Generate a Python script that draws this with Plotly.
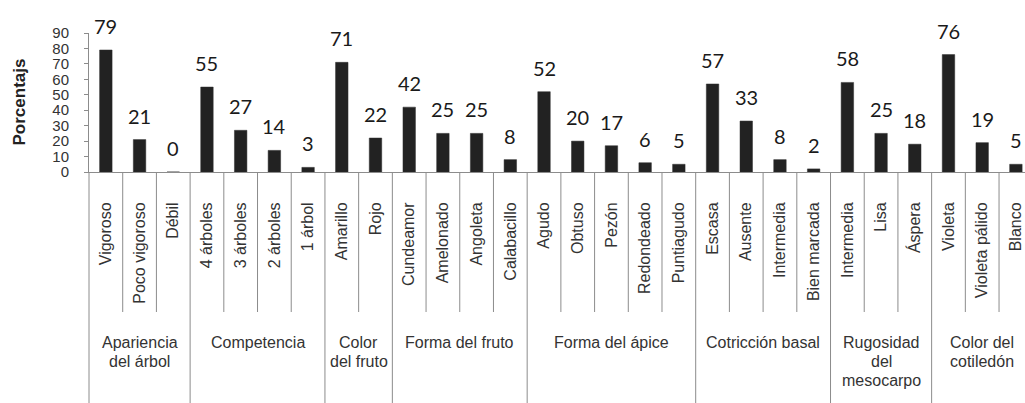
import plotly.graph_objects as go

categories = ["Vigoroso", "Poco vigoroso", "Débil",
              "4 árboles", "3 árboles", "2 árboles", "1 árbol",
              "Amarillo", "Rojo",
              "Cundeamor", "Amelonado", "Angoleta", "Calabacillo",
              "Agudo", "Obtuso", "Pezón", "Redondeado", "Puntiagudo",
              "Escasa", "Ausente", "Intermedia", "Bien marcada",
              "Intermedia", "Lisa", "Áspera",
              "Violeta", "Violeta pálido", "Blanco"]
values = [79, 21, 0,
          55, 27, 14, 3,
          71, 22,
          42, 25, 25, 8,
          52, 20, 17, 6, 5,
          57, 33, 8, 2,
          58, 25, 18,
          76, 19, 5]
group_names = [["Apariencia", "del árbol"], ["Competencia"], ["Color", "del fruto"],
               ["Forma del fruto"], ["Forma del ápice"], ["Cotricción basal"],
               ["Rugosidad", "del", "mesocarpo"], ["Color del", "cotiledón"]]
group_sizes = [3, 4, 2, 4, 5, 4, 3, 3]
y_ticks = [0, 10, 20, 30, 40, 50, 60, 70, 80, 90]

W, H = 1025, 403
ML, MR, MT, MB = 89, 0, 33, 231
PLOT_H = H - MT - MB
X_RANGE = [-0.5, 27.27]
LINE = "#8c8c8c"
FONT = "Liberation Sans, Arial, sans-serif"

idx = list(range(len(categories)))

fig = go.Figure()
fig.add_trace(go.Bar(x=idx, y=values, width=0.37,
                     marker=dict(color="#222222", line=dict(color="#2e2e2e", width=0.5)),
                     showlegend=False, hoverinfo="skip"))

annotations = []
for i, v in zip(idx, values):
    annotations.append(dict(x=i, y=v, xref="x", yref="y", text=str(v), showarrow=False,
                            yanchor="middle", yshift=24,
                            font=dict(family="Lato, sans-serif", size=20, color="#1a1a1a")))

def px_to_paper_y(py):
    return (H - MB - py) / PLOT_H

span = X_RANGE[1] - X_RANGE[0]
def bx(k):
    return (k - 0.5 - X_RANGE[0]) / span

shapes = []
group_bounds = [0]
for s in group_sizes:
    group_bounds.append(group_bounds[-1] + s)
for k in range(0, len(categories) + 1):
    xp = bx(k)
    if xp > 1:
        continue
    if k in group_bounds:
        y1 = px_to_paper_y(H + 5)
    else:
        y1 = px_to_paper_y(312)
    shapes.append(dict(type="line", xref="paper", yref="paper", x0=xp, x1=xp, y0=0, y1=y1,
                       line=dict(color=LINE, width=1)))

for g, (names, s) in enumerate(zip(group_names, group_sizes)):
    start = group_bounds[g]
    cx = start + (s - 1) / 2
    for j, line in enumerate(names):
        annotations.append(dict(x=cx, xref="x", y=0, yref="paper", text=line, showarrow=False,
                                yanchor="middle", yshift=-(342 - (H - MB)) - 19 * j,
                                font=dict(family=FONT, size=16, color="#333333")))

annotations.append(dict(x=0, xref="paper", y=0.5, yref="paper", text="<b>Porcentajs</b>",
                        showarrow=False, textangle=-90, xanchor="center", yanchor="middle",
                        xshift=-70, font=dict(family=FONT, size=17, color="#222222")))

fig.update_layout(
    width=W, height=H,
    margin=dict(l=ML, r=MR, t=MT, b=MB, pad=0, autoexpand=False),
    paper_bgcolor="white", plot_bgcolor="white",
    bargap=0.6,
    xaxis=dict(range=X_RANGE, tickmode="array", tickvals=idx, ticktext=categories,
               tickangle=-90, ticks="", showgrid=False, zeroline=False, automargin=False,
               showline=True, linecolor=LINE, linewidth=1,
               tickfont=dict(family=FONT, size=16, color="#333333"),
               ticklabelstandoff=23),
    yaxis=dict(range=[0, 90], tickmode="array", tickvals=y_ticks, showgrid=False,
               zeroline=False, showline=True, linecolor=LINE, linewidth=1, automargin=False,
               ticks="outside", ticklen=4, tickcolor=LINE,
               tickfont=dict(family=FONT, size=15, color="#333333"),
               ticklabelstandoff=12),
    shapes=shapes,
    annotations=annotations,
)

fig.write_html("out.html", config={"displayModeBar": False, "staticPlot": True},
               post_script="document.body.style.margin='0';document.body.style.overflow='hidden';")
